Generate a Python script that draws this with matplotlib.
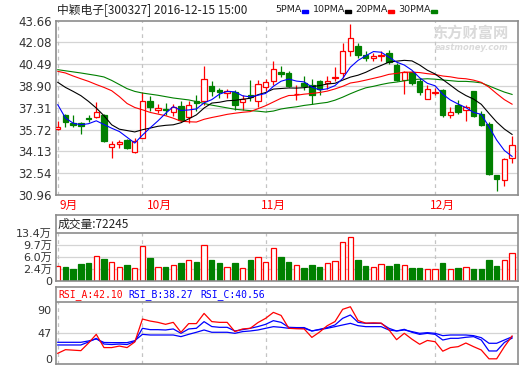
import matplotlib
matplotlib.use("Agg")
import numpy as np
import matplotlib.pyplot as plt
from matplotlib.patches import Rectangle

plt.rcParams['font.family'] = ['DejaVu Sans', 'Noto Sans CJK SC']

# ---- data (daily, 2016-09 .. 2016-12-15) ----
months = ['9月', '10月', '11月', '12月']
month_start = [0, 11, 27, 49]          # candle index of first day shown in each month

opens = [35.78, 36.80, 36.19, 36.19, 36.60, 36.63, 36.80, 34.48, 34.66, 34.97,
         34.12, 35.14, 37.77, 37.16, 37.25, 36.99, 37.46, 36.67, 37.82, 37.82,
         38.92, 38.57, 38.38, 38.43, 37.70, 38.26, 37.77, 38.79, 39.23, 39.89,
         39.84, 38.28, 39.11, 38.99, 39.23, 39.11, 39.48, 39.84, 41.42, 41.78,
         41.18, 40.93, 41.10, 41.30, 40.40, 39.35, 39.89, 39.23, 37.94, 38.40,
         38.57, 36.75, 37.53, 37.11, 38.50, 36.85, 36.14, 32.42, 32.05, 33.64]
highs = [36.31, 36.85, 36.80, 36.27, 36.80, 37.70, 36.85, 34.92, 34.97, 35.00,
         35.10, 38.45, 38.16, 37.60, 37.62, 37.60, 37.77, 37.77, 38.26, 40.38,
         39.23, 38.75, 38.68, 38.62, 38.26, 39.35, 39.35, 39.40, 40.69, 40.38,
         40.00, 38.99, 39.60, 39.42, 39.35, 39.60, 40.30, 42.03, 43.37, 42.03,
         41.42, 41.30, 41.42, 41.54, 40.57, 39.96, 39.96, 39.48, 38.99, 38.75,
         38.67, 37.36, 37.89, 37.53, 38.55, 37.04, 36.24, 32.45, 33.64, 35.27]
lows = [35.70, 35.90, 35.94, 35.41, 36.30, 36.56, 34.85, 33.68, 34.40, 34.30,
        33.99, 35.10, 37.10, 36.92, 36.80, 36.72, 36.31, 36.20, 37.04, 37.53,
        38.13, 38.02, 38.00, 37.16, 37.16, 37.77, 37.40, 38.50, 38.99, 39.55,
        38.80, 37.89, 38.62, 37.58, 38.26, 38.70, 39.23, 39.48, 41.05, 40.93,
        40.69, 40.69, 40.69, 40.50, 39.23, 38.30, 38.99, 38.26, 37.94, 38.26,
        36.67, 36.56, 36.85, 36.36, 36.67, 35.99, 32.42, 31.27, 31.64, 33.32]
closes = [35.94, 36.24, 36.07, 36.00, 36.49, 36.99, 34.92, 34.68, 34.80, 34.41,
          34.90, 37.82, 37.33, 37.29, 37.15, 37.36, 36.43, 37.53, 37.65, 39.40,
          38.50, 38.43, 38.50, 37.53, 37.94, 38.09, 39.04, 39.16, 40.13, 39.79,
          38.86, 38.33, 38.86, 38.26, 38.70, 39.28, 39.52, 41.42, 42.40, 41.18,
          40.93, 41.05, 41.18, 40.65, 39.35, 39.89, 39.11, 38.43, 38.67, 38.45,
          36.80, 36.99, 36.99, 37.36, 36.73, 36.07, 32.49, 32.13, 33.56, 34.61]

ma5 = [37.53, 36.56, 36.19, 36.07, 36.15, 36.36, 36.09, 35.82, 35.58, 35.16,
       34.74, 35.32, 35.85, 36.35, 36.90, 37.39, 37.11, 37.15, 37.22, 37.67,
       37.90, 38.30, 38.50, 38.47, 38.18, 38.10, 38.22, 38.35, 38.87, 39.24,
       39.40, 39.25, 39.19, 38.82, 38.60, 38.69, 38.92, 39.44, 40.26, 40.76,
       41.09, 41.40, 41.35, 41.00, 40.63, 40.42, 40.04, 39.49, 39.09, 38.91,
       38.29, 37.87, 37.58, 37.32, 36.97, 36.83, 35.93, 34.96, 34.20, 33.77]
ma10 = [39.16, 38.79, 38.50, 38.19, 37.77, 37.29, 36.73, 36.07, 35.75, 35.65,
        35.55, 35.71, 35.83, 35.96, 36.03, 36.07, 36.22, 36.50, 36.79, 37.29,
        37.65, 37.71, 37.82, 37.85, 37.93, 38.00, 38.26, 38.42, 38.67, 38.71,
        38.75, 38.74, 38.77, 38.85, 38.92, 39.04, 39.09, 39.32, 39.54, 39.68,
        39.89, 40.16, 40.39, 40.63, 40.70, 40.76, 40.72, 40.42, 40.04, 39.77,
        39.36, 38.95, 38.53, 38.20, 37.94, 37.56, 36.90, 36.27, 35.76, 35.37]
ma20 = [39.96, 39.84, 39.62, 39.42, 39.23, 39.00, 38.79, 38.55, 38.12, 37.62,
        37.33, 37.16, 36.97, 36.85, 36.73, 36.55, 36.33, 36.29, 36.27, 36.47,
        36.60, 36.71, 36.83, 36.91, 36.98, 37.03, 37.24, 37.46, 37.73, 38.00,
        38.20, 38.22, 38.30, 38.35, 38.42, 38.52, 38.68, 38.87, 39.11, 39.20,
        39.32, 39.45, 39.58, 39.74, 39.81, 39.90, 39.90, 39.87, 39.79, 39.73,
        39.62, 39.56, 39.46, 39.42, 39.32, 39.16, 38.81, 38.34, 37.90, 37.57]
ma30 = [40.08, 40.00, 39.92, 39.84, 39.75, 39.66, 39.55, 39.30, 39.00, 38.70,
        38.50, 38.38, 38.30, 38.22, 38.12, 38.02, 37.95, 37.88, 37.76, 37.62,
        37.50, 37.40, 37.30, 37.20, 37.15, 37.10, 37.06, 37.00, 37.07, 37.22,
        37.31, 37.38, 37.48, 37.55, 37.63, 37.70, 37.86, 38.08, 38.33, 38.56,
        38.76, 38.87, 39.00, 39.11, 39.18, 39.27, 39.36, 39.39, 39.42, 39.39,
        39.33, 39.28, 39.23, 39.23, 39.19, 39.12, 38.90, 38.67, 38.45, 38.28]

# volume in 万 (10k)
volume = [3.32, 3.02, 2.50, 4.03, 4.34, 6.40, 5.57, 4.56, 3.02, 3.73,
          2.70, 9.50, 5.88, 3.02, 3.10, 3.63, 4.34, 5.17, 4.65, 9.80,
          5.27, 4.34, 3.02, 4.34, 2.70, 5.27, 6.10, 4.56, 8.87, 6.19,
          4.65, 3.63, 2.80, 3.73, 3.10, 4.25, 4.96, 10.70, 12.26, 5.27,
          3.42, 3.02, 3.94, 3.42, 4.03, 3.63, 2.80, 2.80, 2.50, 2.28,
          4.34, 2.50, 2.80, 3.02, 2.50, 2.50, 5.27, 3.42, 5.27, 7.22]

rsi_a = [10.3, 17.0, 16.1, 15.2, 29.2, 45.1, 20.8, 20.8, 23.6, 20.8,
         31.1, 73.2, 69.5, 67.1, 63.5, 67.1, 48.9, 64.8, 64.8, 83.5,
         68.5, 67.1, 67.1, 50.1, 55.0, 56.2, 66.7, 74.5, 85.4, 79.8,
         56.2, 55.4, 55.0, 39.5, 49.3, 61.0, 68.5, 91.0, 95.7, 70.4,
         65.7, 66.2, 65.7, 53.6, 35.3, 47.0, 36.2, 26.9, 33.9, 31.6,
         14.2, 20.8, 22.5, 29.2, 22.5, 16.4, 0.2, 0.2, 22.4, 42.10]
rsi_b = [25.6, 25.6, 25.6, 25.6, 31.1, 37.8, 27.3, 26.4, 27.3, 26.4,
         32.0, 56.2, 53.7, 53.7, 53.1, 55.0, 47.0, 55.0, 56.2, 68.4,
         59.4, 58.0, 58.0, 51.3, 53.7, 56.2, 59.4, 63.5, 70.2, 67.1,
         58.0, 57.5, 57.5, 51.3, 54.3, 57.5, 62.3, 74.5, 80.6, 67.1,
         65.3, 65.3, 65.3, 56.2, 51.3, 54.3, 48.9, 45.1, 47.0, 45.1,
         34.7, 37.8, 37.8, 39.7, 40.9, 34.7, 14.6, 14.6, 30.2, 38.27]
rsi_c = [30.5, 30.5, 30.5, 30.5, 33.0, 36.6, 30.2, 29.9, 29.9, 29.9,
         33.5, 45.1, 43.9, 43.9, 43.9, 43.9, 40.9, 45.1, 48.9, 53.1,
         48.9, 48.9, 48.9, 47.0, 50.1, 51.3, 53.1, 56.2, 59.2, 58.0,
         56.2, 56.2, 56.2, 51.3, 53.7, 56.2, 59.2, 62.3, 65.3, 61.0,
         59.2, 59.2, 59.2, 53.1, 51.3, 53.1, 50.1, 47.0, 48.2, 47.0,
         42.7, 43.9, 43.9, 43.9, 42.7, 39.0, 28.7, 28.7, 34.7, 40.56]

price_ticks = [30.96, 32.54, 34.13, 35.72, 37.31, 38.90, 40.49, 42.08, 43.66]
vol_ticks = [2.4, 6.0, 9.7, 13.4]
rsi_ticks = [0, 47, 90]

# ---- style ----
RED, GREEN, BLUE = '#ff0000', '#008000', '#0000ff'
FRAME = '#8c8c8c'
GRID = '#d4d4d4'
W, H = 520, 365
n = len(closes)
x = np.arange(n)
up = [c >= o for o, c in zip(opens, closes)]
bw = 0.7

fig = plt.figure(figsize=(W / 100, H / 100), dpi=100)


def px_axes(l, t, r, b):
    return fig.add_axes([l / W, 1 - b / H, (r - l) / W, (b - t) / H])


def style(ax):
    ax.set_xlim(-0.23, n - 0.23)
    for s in ax.spines.values():
        s.set_color(FRAME)
        s.set_linewidth(1.2)
    ax.tick_params(length=0, pad=3, labelsize=8, colors='#333333')
    ax.set_xticks([])


# ---- price panel ----
ax = px_axes(56, 20.5, 518, 195)
style(ax)
ax.set_ylim(price_ticks[0], price_ticks[-1])
ax.set_yticks(price_ticks)
ax.tick_params(axis='y', labelsize=8.5)
for t in price_ticks[1:-1]:
    ax.axhline(t, color=GRID, lw=0.9, zorder=0)
ax.vlines(month_start, price_ticks[0], price_ticks[-1], color='#c4c4c4',
          lw=0.9, linestyles=(0, (3, 3)), zorder=0)

for i in range(n):
    o, h, l, c = opens[i], highs[i], lows[i], closes[i]
    top, bot = max(o, c), min(o, c)
    if up[i]:
        ax.vlines(i, top, h, color=RED, lw=0.9, zorder=2)
        ax.vlines(i, l, bot, color=RED, lw=0.9, zorder=2)
        ax.add_patch(Rectangle((i - bw / 2, bot), bw, top - bot, facecolor='white',
                               edgecolor=RED, lw=0.9, zorder=3))
    else:
        ax.vlines(i, l, h, color=GREEN, lw=0.9, zorder=2)
        ax.add_patch(Rectangle((i - bw / 2, bot), bw, top - bot, facecolor=GREEN,
                               edgecolor=GREEN, lw=0.9, zorder=3))

ax.plot(x, ma30, color=GREEN, lw=0.8, zorder=4)
ax.plot(x, ma20, color=RED, lw=0.8, zorder=4)
ax.plot(x, ma10, color='black', lw=0.8, zorder=4)
ax.plot(x, ma5, color=BLUE, lw=0.8, zorder=4)

month_dx = [2, 4, -5, -5]
for m, idx, dx in zip(months, month_start, month_dx):
    ax.annotate(m, xy=(idx, 0), xycoords=('data', 'axes fraction'),
                xytext=(dx, -4), textcoords='offset pixels', ha='left', va='top',
                color=RED, fontsize=8.5, family=['Noto Sans CJK SC'])

# watermark
ax.text(0.98, 0.93, '东方财富网', transform=ax.transAxes, ha='right', va='center',
        fontsize=11, color='#dadada', fontweight='bold', family=['Noto Sans CJK SC'], zorder=1)
ax.text(0.98, 0.845, 'eastmoney.com', transform=ax.transAxes, ha='right', va='center',
        fontsize=6, color='#dadada', fontweight='bold', style='italic', zorder=1)

# header
fig.text(57 / W, 1 - 10 / H, '中颖电子[300327] 2016-12-15 15:00', fontsize=8.5,
         va='center', ha='left', family=['Noto Sans CJK SC'], color='#222222')
leg_names = ['5PMA', '10PMA', '20PMA', '30PMA']
leg_colors = [BLUE, 'black', RED, GREEN]
leg_x = [275, 313, 355, 398]
dash_x = [302, 345, 388, 431]
for name, col, lx, dx in zip(leg_names, leg_colors, leg_x, dash_x):
    fig.text(lx / W, 1 - 10 / H, name, fontsize=6.8, va='center', ha='left', color='#222222')
    fig.patches.append(Rectangle((dx / W, 1 - 13 / H), 6 / W, 3 / H,
                                 transform=fig.transFigure, color=col))

# ---- volume panel ----
VMIN, VSEP = -1.25, 0.718
vtop = VMIN + (vol_ticks[-1] - VMIN) / VSEP
axv = px_axes(56, 214.7, 518, 280.7)
style(axv)
axv.set_ylim(VMIN, vtop)
axv.set_yticks([VMIN] + vol_ticks)
axv.set_yticklabels(['0'] + ['%.1f万' % v for v in vol_ticks])
for t in vol_ticks[:-1]:
    axv.axhline(t, color=GRID, lw=0.9, zorder=0)
axv.axhline(vol_ticks[-1], color=FRAME, lw=1.2, zorder=1)
axv.vlines(month_start, VMIN, vol_ticks[-1], color='#c4c4c4', lw=0.9,
           linestyles=(0, (3, 3)), zorder=0)
axv.bar(x, [v - VMIN for v in volume], bottom=VMIN, width=bw,
        color=['white' if u else GREEN for u in up],
        edgecolor=[RED if u else GREEN for u in up], linewidth=0.9, zorder=2)
axv.text(2 / 462, 0.86, '成交量:72245', transform=axv.transAxes, ha='left',
         va='center', fontsize=8.5, family=['Noto Sans CJK SC'], color='#222222')

# ---- RSI panel ----
axr = px_axes(56, 287.3, 518, 364)
style(axr)
RMIN, RMAX, RSEP = -9.3, 131.4, 103.9
axr.set_ylim(RMIN, RMAX)
axr.set_yticks(rsi_ticks)
axr.axhline(47, color=GRID, lw=0.9, zorder=0)
axr.axhline(RSEP, color=FRAME, lw=1.2, zorder=1)
axr.vlines(month_start, RMIN, RSEP, color='#c4c4c4', lw=0.9,
           linestyles=(0, (3, 3)), zorder=0)
axr.plot(x, rsi_c, color=BLUE, lw=0.9, zorder=3)
axr.plot(x, rsi_b, color=BLUE, lw=0.9, zorder=3)
axr.plot(x, rsi_a, color=RED, lw=0.9, zorder=4)
rsi_labels = [('RSI_A:%.2f' % rsi_a[-1], RED, 2),
              ('RSI_B:%.2f' % rsi_b[-1], BLUE, 72),
              ('RSI_C:%.2f' % rsi_c[-1], BLUE, 144)]
for txt, col, off in rsi_labels:
    axr.text(off / 462, 0.905, txt, transform=axr.transAxes, ha='left', va='center',
             fontsize=7, family='DejaVu Sans Mono', color=col)

fig.savefig('out.png', dpi=100)
